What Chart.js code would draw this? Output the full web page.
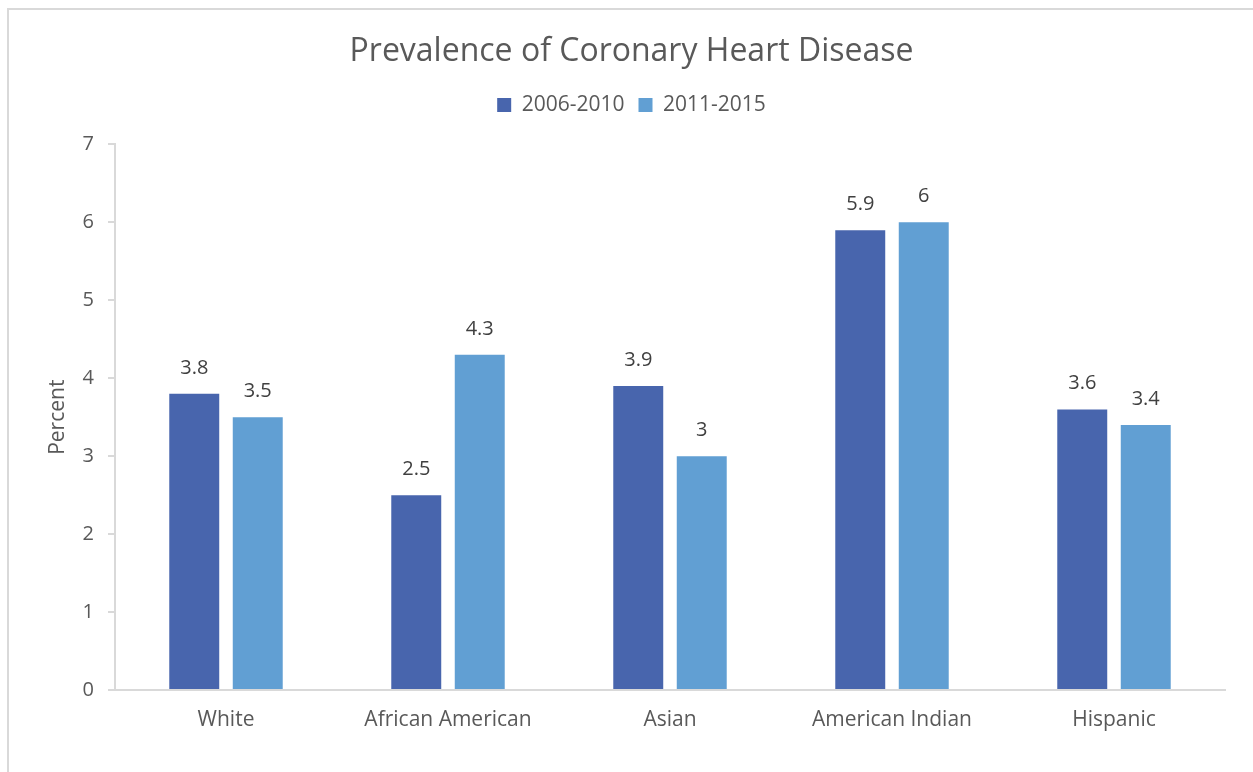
<!DOCTYPE html>
<html>
<head>
<meta charset="utf-8">
<script src="https://cdn.jsdelivr.net/npm/chart.js@4"></script>
<style>
    html, body { margin: 0; padding: 0; background: #fff; overflow: hidden; }
    #frame {
        position: absolute; left: 7px; top: 8px; width: 1300px; height: 800px;
        border-top: 2px solid #d9d9d9; border-left: 2px solid #d9d9d9;
    }
    #wrap { position: absolute; left: 0; top: 0; width: 1253px; height: 772px; }
</style>
</head>
<body>
<div id="frame"></div>
<div id="wrap"><canvas id="myChart" width="1253" height="772"></canvas></div>
<script>
// Chart data
var categories = ['White', 'African American', 'Asian', 'American Indian', 'Hispanic'];
var series2006 = [3.8, 2.5, 3.9, 5.9, 3.6];
var series2011 = [3.5, 4.3, 3.0, 6.0, 3.4];
var yTicks = [0, 1, 2, 3, 4, 5, 6, 7];

var textColor = '#595959';
var fontName = '"Open Sans", sans-serif';

// Value labels above the bars
var barLabels = {
    id: 'barLabels',
    beforeLayout: function (chart) {
        // extra room under the legend
        var lg = chart.legend;
        if (lg && !lg._padded) {
            var fit = lg.fit;
            lg.fit = function () {
                fit.apply(this, arguments);
                this.height += 19;
            };
            lg._padded = true;
        }
    },
    afterDatasetsDraw: function (chart) {
        var ctx = chart.ctx;
        ctx.save();
        ctx.font = '20px ' + fontName;
        ctx.fillStyle = '#404040';
        ctx.textAlign = 'center';
        ctx.textBaseline = 'middle';
        chart.data.datasets.forEach(function (ds, i) {
            chart.getDatasetMeta(i).data.forEach(function (bar, j) {
                ctx.fillText(String(ds.data[j]), bar.x, bar.y - 26);
            });
        });
        ctx.restore();
    }
};

const ctx = document.getElementById('myChart').getContext('2d');
const myChart = new Chart(ctx, {
    type: 'bar',
    data: {
        labels: categories,
        datasets: [{
            label: '2006-2010',
            data: series2006,
            backgroundColor: '#4865ad'
        }, {
            label: '2011-2015',
            data: series2011,
            backgroundColor: '#619fd3'
        }]
    },
    plugins: [barLabels],
    options: {
        responsive: false,
        animation: false,
        layout: { padding: { left: 38, right: 28, top: 0, bottom: 0 } },
        datasets: {
            bar: { categoryPercentage: 0.572, barPercentage: 0.787 }
        },
        plugins: {
            tooltip: { enabled: false },
            title: {
                display: true,
                text: 'Prevalence of Coronary Heart Disease',
                color: textColor,
                font: { family: fontName, size: 32, weight: 'normal' },
                padding: { top: 33, bottom: 9 }
            },
            legend: {
                labels: {
                    color: textColor,
                    font: { family: fontName, size: 21 },
                    boxWidth: 14,
                    boxHeight: 14,
                    padding: 14
                }
            }
        },
        scales: {
            x: {
                grid: { display: false, drawTicks: false },
                border: { color: '#d9d9d9', width: 2 },
                ticks: { color: textColor, font: { family: fontName, size: 21 }, padding: 17 },
                afterFit: function (scale) { scale.height = 82; }
            },
            y: {
                min: 0,
                max: 7,
                afterBuildTicks: function (scale) {
                    scale.ticks = yTicks.map(function (v) { return { value: v }; });
                },
                grid: { display: true, drawOnChartArea: false, drawTicks: true, tickLength: 7, color: '#d9d9d9', lineWidth: 2 },
                border: { color: '#d9d9d9', width: 2 },
                ticks: { color: textColor, font: { family: fontName, size: 20 }, padding: 14 },
                title: {
                    display: true,
                    text: 'Percent',
                    color: textColor,
                    font: { family: fontName, size: 21 },
                    padding: { top: 7, bottom: 6 }
                },
                afterFit: function (scale) { scale.width = 77; }
            }
        }
    }
});
</script>
</body>
</html>
